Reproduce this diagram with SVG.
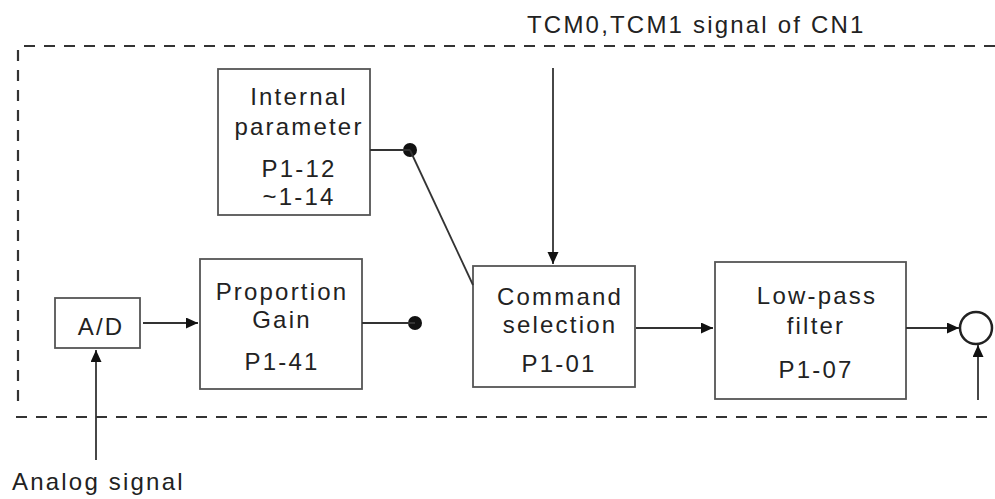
<svg xmlns="http://www.w3.org/2000/svg" width="995" height="499" viewBox="0 0 995 499">
<style>
text{font-family:"Liberation Sans",Arial,sans-serif;font-size:24px;fill:#222;letter-spacing:2.2px}
.c{text-anchor:middle}
.box{fill:none;stroke:#555;stroke-width:1.8}
.dash{fill:none;stroke:#333;stroke-width:2.2;stroke-dasharray:11 9}
.ln{fill:none;stroke:#333;stroke-width:1.8}
.dot{fill:#111}
</style>
<defs>
<marker id="ah" markerUnits="userSpaceOnUse" markerWidth="14" markerHeight="12" refX="12" refY="5.5" orient="auto">
<path d="M0,0 L12,5.5 L0,11 Z" fill="#111"/>
</marker>
</defs>
<rect width="995" height="499" fill="#fff"/>
<g id="boundary">
<path class="dash" d="M24,46 H995"/>
<path class="dash" d="M18,50 V406"/>
<path class="dash" d="M16,417 H995"/>
</g>
<g id="label-tcm"><text x="527" y="33">TCM0,TCM1 signal of CN1</text></g>
<g id="label-analog"><text x="12" y="490">Analog signal</text></g>
<g id="internal">
<rect class="box" x="218" y="69" width="152" height="146"/>
<text class="c" x="299" y="105">Internal</text>
<text class="c" x="299" y="135">parameter</text>
<text class="c" x="299" y="177">P1-12</text>
<text class="c" x="299" y="205">~1-14</text>
</g>
<g id="ad">
<rect class="box" x="55" y="298" width="85" height="50"/>
<text class="c" x="101" y="335">A/D</text>
</g>
<g id="proportion">
<rect class="box" x="200" y="259" width="162" height="130"/>
<text class="c" x="282" y="300">Proportion</text>
<text class="c" x="282" y="328">Gain</text>
<text class="c" x="282" y="370">P1-41</text>
</g>
<g id="command">
<rect class="box" x="473" y="266" width="162" height="121"/>
<text class="c" x="560" y="305">Command</text>
<text class="c" x="560" y="333">selection</text>
<text class="c" x="559" y="372">P1-01</text>
</g>
<g id="lowpass">
<rect class="box" x="715" y="262" width="191" height="137"/>
<text class="c" x="817" y="304">Low-pass</text>
<text class="c" x="816" y="334">filter</text>
<text class="c" x="816" y="378">P1-07</text>
</g>
<g id="sum">
<circle cx="976" cy="328" r="16" fill="none" stroke="#222" stroke-width="2.5"/>
</g>
<g id="dots">
<circle class="dot" cx="410" cy="150" r="7"/>
<circle class="dot" cx="415" cy="323" r="7"/>
</g>
<g id="connectors">
<path class="ln" d="M370,150 H410"/>
<path class="ln" d="M410,150 L473,285" stroke-width="2.2"/>
<path class="ln" d="M362,323 H415"/>
<path class="ln" d="M553,68 V264" marker-end="url(#ah)"/>
<path class="ln" d="M143,323 H198" marker-end="url(#ah)"/>
<path class="ln" d="M96,460 V350" marker-end="url(#ah)"/>
<path class="ln" d="M636,328 H713" marker-end="url(#ah)"/>
<path class="ln" d="M906,328 H959" marker-end="url(#ah)"/>
<path class="ln" d="M978,400 V345" marker-end="url(#ah)"/>
</g>
</svg>
